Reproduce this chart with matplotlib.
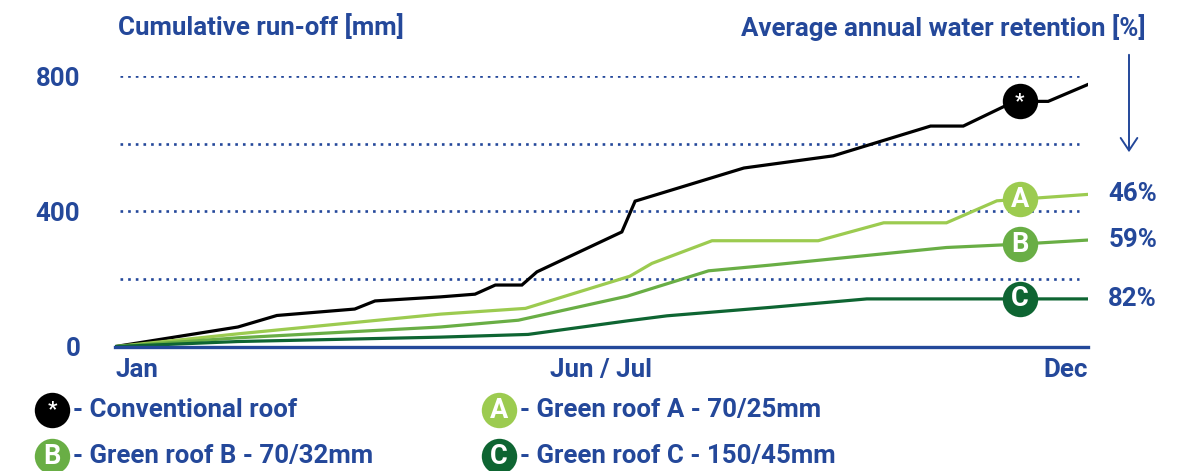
import numpy as np
import matplotlib
matplotlib.use("Agg")
import matplotlib.pyplot as plt
from matplotlib.lines import Line2D
from matplotlib.patches import FancyArrowPatch

plt.rcParams['font.family'] = ['Roboto', 'DejaVu Sans']

# ---------------- data ----------------
x_ticks = [0, 5.5, 11]
x_labels = ["Jan", "Jun / Jul", "Dec"]
y_ticks = [0, 400, 800]
grid_levels = [200, 400, 600, 800]

conv_months = [0, 1.39, 1.83, 2.71, 2.94, 3.68, 4.07, 4.30, 4.60, 4.77, 5.73, 5.88,
               7.11, 8.12, 9.22, 9.59, 10.17, 10.55, 11]
conv_runoff = [0, 58, 92, 111, 135, 147, 155, 182, 182, 221, 339, 430,
               528, 564, 652, 652, 725, 725, 775]

a_months = [0, 1.4, 3.68, 4.64, 5.82, 6.07, 6.75, 7.95, 8.69, 9.40, 9.97, 11]
a_runoff = [0, 38, 96, 113, 208, 246, 313, 313, 366, 366, 431, 450]

b_months = [0, 1.39, 3.68, 4.56, 5.79, 6.71, 7.41, 9.40, 10.23, 11]
b_runoff = [0, 26, 58, 78, 149, 224, 241, 293, 303, 315]

c_months = [0, 1.39, 3.68, 4.67, 5.79, 6.24, 7.41, 8.5, 11]
c_runoff = [0, 15, 28, 36, 76, 91, 116, 141, 141]

retention = {"A": 46, "B": 59, "C": 82}
legend_labels = {"*": "- Conventional roof",
                 "A": "- Green roof A - 70/25mm",
                 "B": "- Green roof B - 70/32mm",
                 "C": "- Green roof C - 150/45mm"}
marker_month = 10.23

# ---------------- style ----------------
BLUE = '#24489A'
COL = {"*": '#000000', "A": '#9CCB50', "B": '#69AE45', "C": '#0E6532'}
FS = 18.6
FW = 'bold'
LETTER_FS = {"*": 15, "A": 19.5, "B": 19.5, "C": 19.5}
W, H = 1183, 471
fig = plt.figure(figsize=(W / 100, H / 100), dpi=100)
ax = fig.add_axes([115 / W, 1 - 346.6 / H, (1088 - 115) / W, (346.6 - 76) / H])
ax.set_xlim(0, 11)
ax.set_ylim(0, 800)

for s in ['top', 'right', 'left']:
    ax.spines[s].set_visible(False)
ax.spines['bottom'].set_color(BLUE)
ax.spines['bottom'].set_linewidth(2.4)
ax.spines['bottom'].set_zorder(5)

ax.hlines(grid_levels, 0.06, 10.9, colors=BLUE, linewidth=1.9,
          linestyles=(0, (1.0, 1.9)), zorder=1)

series = [("*", conv_months, conv_runoff),
          ("A", a_months, a_runoff),
          ("B", b_months, b_runoff),
          ("C", c_months, c_runoff)]
for key, xs, ys in series:
    ax.plot(xs, ys, color=COL[key], linewidth=2.3, zorder=3, solid_joinstyle='miter')
    my = np.interp(marker_month, xs, ys)
    ax.plot([marker_month], [my], marker='o', markersize=25.5, color=COL[key],
            markeredgewidth=0, zorder=4, clip_on=False)
    ax.text(marker_month, my, key, color='white', ha='center', va='center',
            fontsize=LETTER_FS[key], fontweight='bold', zorder=6)
    if key in retention:
        ax.annotate(f"{retention[key]}%", xy=(11, ys[-1]), xytext=(14.5, 0),
                    textcoords='offset points', ha='left', va='center',
                    color=BLUE, fontsize=FS, fontweight=FW,
                    annotation_clip=False)

ax.set_xticks(x_ticks)
ax.set_xticklabels(x_labels, color=BLUE, fontsize=FS, fontweight=FW)
tl = ax.get_xticklabels()
tl[0].set_ha('left')
tl[-1].set_ha('right')
ax.tick_params(axis='x', length=0, pad=8)
ax.set_yticks(y_ticks)
ax.set_yticklabels([str(v) for v in y_ticks], color=BLUE, fontsize=FS,
                   fontweight=FW)
ax.tick_params(axis='y', length=0, pad=25)

fig.text(118 / W, 1 - 27 / H, "Cumulative run-off [mm]", color=BLUE,
         fontsize=FS, fontweight=FW, va='center', ha='left')
fig.text(1146 / W, 1 - 28 / H, "Average annual water retention [%]", color=BLUE,
         fontsize=FS, fontweight=FW, va='center', ha='right')
arrow = FancyArrowPatch((1129 / W, 1 - 52 / H), (1129 / W, 1 - 155 / H),
                        transform=fig.transFigure, arrowstyle='->,head_length=6,head_width=4',
                        color=BLUE, linewidth=1.4, mutation_scale=1.5)
fig.add_artist(arrow)

# legend
leg_pos = {"*": (52, 410), "A": (499, 410), "B": (52, 456), "C": (499, 456)}
for key, (px, py) in leg_pos.items():
    fx, fy = px / W, 1 - py / H
    fig.add_artist(Line2D([fx], [fy], marker='o', markersize=25.5, color=COL[key],
                          markeredgewidth=0, transform=fig.transFigure))
    fig.text(fx, fy, key, color='white', ha='center', va='center',
             fontsize=LETTER_FS[key], fontweight='bold')
    fig.text(fx + 21 / W, fy, legend_labels[key], color=BLUE, ha='left',
             va='center', fontsize=FS, fontweight=FW)

fig.savefig("out.png", dpi=100)
